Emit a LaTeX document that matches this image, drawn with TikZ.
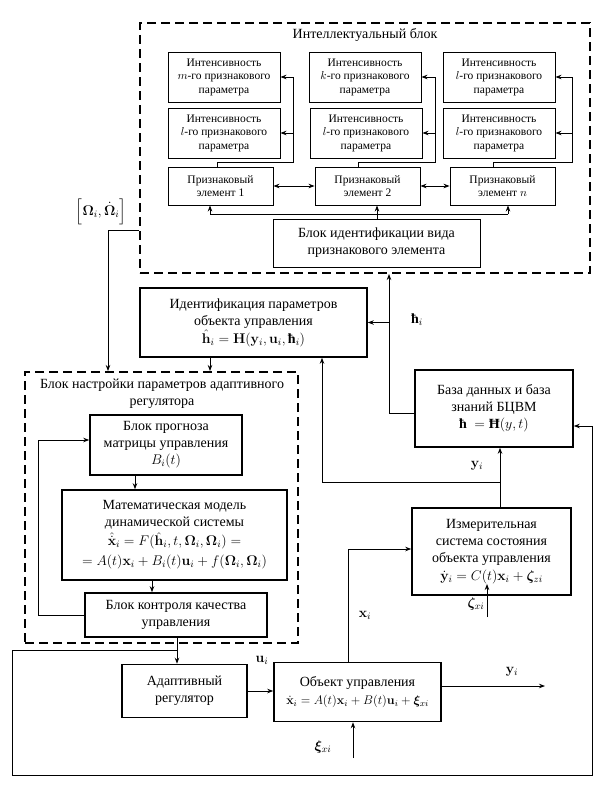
\RequirePackage{fix-cm}
\documentclass[tikz,border=0pt]{standalone}
\usepackage{amsmath,bm}
\usepackage[no-math]{fontspec}
\setmainfont{Liberation Serif}
\usetikzlibrary{arrows.meta}
\newcommand\bigf{\fontsize{14}{17}\selectfont}
\newcommand\smallf{\fontsize{11.5}{13.5}\selectfont}
\newcommand\hb{\text{\bfseries ħ}}
\newcommand\Hb{\text{\bfseries Ħ}}
\newcommand\Om{\mathbf{\Omega}}
\tikzset{
 bigbox/.style={draw, line width=1.6pt, inner sep=0pt, align=center, font=\bigf},
 smallbox/.style={draw, line width=0.9pt, inner sep=0pt, align=center, font=\smallf},
 dashbox/.style={draw, line width=2pt, dash pattern=on 9pt off 5pt, inner sep=0pt},
 conn/.style={line width=0.8pt, -{Stealth[length=6pt,width=4.5pt]}},
 dconn/.style={line width=0.8pt, {Stealth[length=6pt,width=4.5pt]}-{Stealth[length=6pt,width=4.5pt]}},
 plain/.style={line width=0.8pt},
 lbl/.style={inner sep=0pt, font=\bigf, align=center},
}
\begin{document}
\begin{tikzpicture}[x=1pt,y=-1pt]
\useasboundingbox (0,0) rectangle (602,795);
% ---------- intellectual block ----------
\node[dashbox, minimum width=450pt, minimum height=250pt] (ib) at (365,148) {};
\node[lbl] (ibt) at (365,35) {Интеллектуальный блок};
\node[smallbox, minimum width=112pt, minimum height=50pt] (ia1) at (224,77) {Интенсивность\\$m$-го признакового\\параметра};
\node[smallbox, minimum width=112pt, minimum height=50pt] (ib1) at (365,77) {Интенсивность\\$k$-го признакового\\параметра};
\node[smallbox, minimum width=112pt, minimum height=50pt] (ic1) at (499,77) {Интенсивность\\$l$-го признакового\\параметра};
\node[smallbox, minimum width=112pt, minimum height=50pt] (ia2) at (224,133) {Интенсивность\\$l$-го признакового\\параметра};
\node[smallbox, minimum width=112pt, minimum height=50pt] (ib2) at (366,133) {Интенсивность\\$l$-го признакового\\параметра};
\node[smallbox, minimum width=112pt, minimum height=50pt] (ic2) at (499,133) {Интенсивность\\$l$-го признакового\\параметра};
\node[smallbox, minimum width=105pt, minimum height=38pt] (e1) at (220.5,186) {Признаковый\\элемент 1};
\node[smallbox, minimum width=105pt, minimum height=38pt] (e2) at (367.5,186) {Признаковый\\элемент 2};
\node[smallbox, minimum width=105pt, minimum height=38pt] (en) at (502.5,186) {Признаковый\\элемент $n$};
\node[smallbox, font=\bigf, minimum width=207pt, minimum height=48pt] (bv) at (376.5,243) {Блок идентификации вида\\признакового элемента};
% trunks to intensity boxes
\coordinate (ta) at (293,162); \coordinate (a1) at (217,162);
\coordinate (tb) at (435,162); \coordinate (b1) at (358,162);
\coordinate (tc) at (572,162); \coordinate (c1) at (493,162);
\draw[plain] (e1.north -| a1) -- (a1) -- (ta) -- (ta |- ia1.east);
\draw[plain] (e2.north -| b1) -- (b1) -- (tb) -- (tb |- ib1.east);
\draw[plain] (en.north -| c1) -- (c1) -- (tc) -- (tc |- ic1.east);
\draw[conn] (ta |- ia1.east) -- (ia1.east);
\draw[conn] (ta |- ia2.east) -- (ia2.east);
\draw[conn] (tb |- ib1.east) -- (ib1.east);
\draw[conn] (tb |- ib2.east) -- (ib2.east);
\draw[conn] (tc |- ic1.east) -- (ic1.east);
\draw[conn] (tc |- ic2.east) -- (ic2.east);
\draw[dconn] (e1.east) -- (e2.west);
\draw[dconn] (e2.east) -- (en.west);
\coordinate (bvj) at (377,214); \coordinate (bl) at (210,214); \coordinate (br) at (508,214);
\draw[plain] (bl) -- (br);
\draw[conn] (bv.north -| bvj) -- (e2.south -| bvj);
\draw[conn] (bl) -- (bl |- e1.south);
\draw[conn] (br) -- (br |- en.south);
% ---------- identification ----------
\node[bigbox, minimum width=227pt, minimum height=69pt] (id) at (253.5,322.5)
 {Идентификация параметров\\объекта управления\\[1pt]$\hat{\mathbf h}_i = \mathbf H(\mathbf y_i, \mathbf u_i, \hb_i)$};
\node[bigbox, minimum width=158pt, minimum height=77pt] (db) at (494,408.5)
 {База данных и база\\знаний БЦВМ\\$\hb\ = \Hb(y,t)$};
\node[bigbox, minimum width=159pt, minimum height=87pt] (ms) at (491.5,551.5)
 {Измерительная\\система состояния\\объекта управления\\[1pt]$\dot{\mathbf y}_i = C(t)\mathbf x_i + \bm\zeta_{zi}$};
% ---------- adaptive block ----------
\node[dashbox, minimum width=273pt, minimum height=271pt] (ab) at (161.5,507.5) {};
\node[lbl] (abt) at (162,393.5) {Блок настройки параметров адаптивного\\регулятора};
\node[bigbox, minimum width=152pt, minimum height=60pt] (pr) at (166,445)
 {Блок прогноза\\матрицы управления\\$B_i(t)$};
\node[bigbox, minimum width=225pt, minimum height=90pt] (mm) at (174.5,535)
 {Математическая модель\\динамической системы\\[2pt]$\hat{\dot{\mathbf x}}_i = F(\hat{\mathbf h}_i, t, \Om_i, \Om_i) =$\\[3pt]$= A(t)\mathbf x_i + B_i(t)\mathbf u_i + f(\Om_i, \Om_i)$};
\node[bigbox, minimum width=182pt, minimum height=44pt] (qc) at (176,615)
 {Блок контроля качества\\управления};
\node[bigbox, minimum width=125pt, minimum height=53pt] (ar) at (184.5,691)
 {Адаптивный\\регулятор};
\node[bigbox, minimum width=167pt, minimum height=59pt] (ob) at (357.5,692)
 {Объект управления\\[1pt]{\fontsize{12.5}{15}\selectfont$\dot{\mathbf x}_i = A(t)\mathbf x_i + B(t)\mathbf u_i + \bm\xi_{xi}$}};
% ---------- connectors ----------
\coordinate (dbo) at (389,413);
\draw[conn] (db.west |- dbo) -- (dbo) -- (dbo |- ib.south);
\draw[conn] (dbo |- id.east) -- (id.east);
\node[lbl] (lh) at (417,320) {$\hb_i$};
\coordinate (msy) at (500,482); \coordinate (idy) at (322,482);
\draw[conn] (ms.north -| msy) -- (db.south -| msy);
\draw[conn] (msy) -- (idy) -- (idy |- id.south);
\node[lbl] (ly1) at (477,466) {$\mathbf y_i$};
\coordinate (idd) at (210,365);
\draw[conn] (id.south -| idd) -- (ab.north -| idd);
\coordinate (om) at (108,230);
\draw[conn] (ib.west |- om) -- (om) -- (om |- ab.north);
\node[lbl] (lom) at (101,212) {$\Big[\Om_i, \dot{\Om}_i\Big]$};
\coordinate (pm) at (135,482); \coordinate (mq) at (152,586);
\draw[conn] (pr.south -| pm) -- (mm.north -| pm);
\draw[conn] (mm.south -| mq) -- (qc.north -| mq);
\coordinate (fbl) at (38,440);
\draw[conn] (qc.west) -| (fbl) -- (fbl -| pr.west);
\coordinate (qa) at (177,650);
\draw[conn] (qc.south -| qa) -- (ar.north -| qa);
\coordinate (lp1) at (12,650); \coordinate (lp2) at (12,775);
\coordinate (lp3) at (592,775); \coordinate (lp4) at (592,426);
\draw[conn] (qa) -- (lp1) -- (lp2) -- (lp3) -- (lp4) -- (lp4 -| db.east);
\draw[conn] (ar.east) -- (ar.east -| ob.west);
\node[lbl] (lu) at (262,660) {$\mathbf u_i$};
\coordinate (yo) at (545,686);
\draw[conn] (ob.east |- yo) -- (yo);
\node[lbl] (ly2) at (512,672) {$\mathbf y_i$};
\coordinate (xi) at (353,758);
\draw[conn] (xi) -- (xi |- ob.south);
\node[lbl] (lxi) at (323,747) {$\bm\xi_{xi}$};
\coordinate (xc) at (348,549);
\draw[conn] (ob.north -| xc) -- (xc) -- (xc -| ms.west);
\node[lbl] (lx) at (365,615) {$\mathbf x_i$};
\coordinate (ze) at (487,617); \coordinate (zt) at (487,584);
\draw[conn] (ze) -- (zt);
\node[lbl] (lze) at (476,604) {$\bm\zeta_{xi}$};
\end{tikzpicture}
\end{document}
